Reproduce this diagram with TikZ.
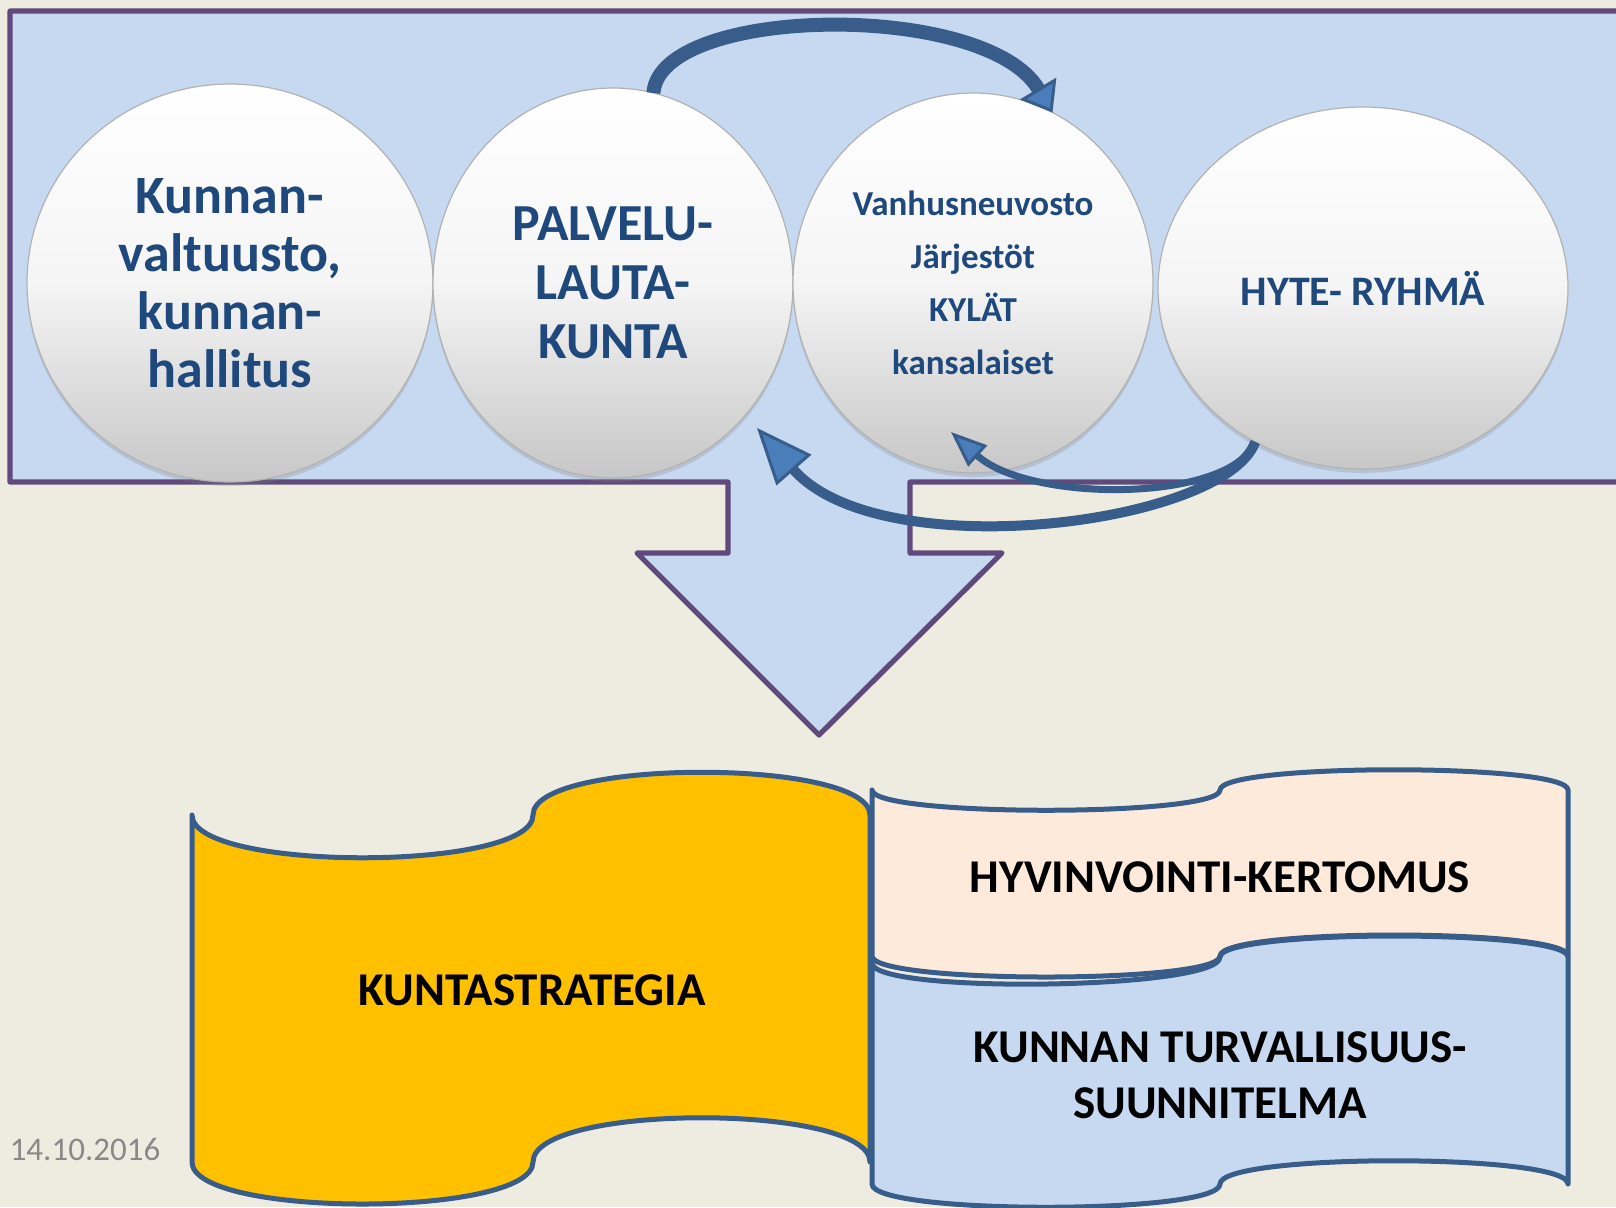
\documentclass[tikz,border=0pt]{standalone}
\usepackage{fontspec}
\setmainfont{Carlito}
\usepackage{tikz}
\usetikzlibrary{positioning,shapes.geometric,arrows.meta,shadows}
\definecolor{tausta}{RGB}{238,236,225}
\definecolor{kehys}{RGB}{96,74,123}
\definecolor{vaalea}{RGB}{198,217,241}
\definecolor{teksti}{RGB}{31,73,125}
\definecolor{nuoli}{RGB}{56,93,138}
\definecolor{nuolitaytto}{RGB}{74,126,187}
\definecolor{keltainen}{RGB}{255,192,0}
\definecolor{persikka}{RGB}{253,234,218}
\definecolor{pvm}{RGB}{137,137,137}
\tikzstyle{pallo} = [ellipse, inner sep=0pt, outer sep=0pt, draw=black!30, line width=0.6pt,
    top color=white, bottom color=white!78!black, middle color=white!96!black,
    align=center, text=teksti, drop shadow={opacity=0.25, shadow xshift=0pt, shadow yshift=-2pt}]
\tikzstyle{kaari} = [draw=nuoli, line width=5pt]
\tikzstyle{nauha} = [draw=nuoli, line width=2.5pt, line join=round]
\tikzstyle{otsikko} = [align=center, font=\bfseries\fontsize{23.5}{28}\selectfont]

\begin{document}
\begin{tikzpicture}[x=0.5pt, y=-0.5pt]
    \useasboundingbox (0,0) rectangle (1616,1207);
    \fill[tausta] (0,0) rectangle (1616,1207);

    \draw[kehys, fill=vaalea, line width=2.6pt, line join=round] (1630,11) -- (10,11) -- (10,482)
        -- (728,482) -- (728,553) -- (637,553) -- (819,735) -- (1002,553) -- (910,553) -- (910,482) -- (1630,482);

    \node[pallo, minimum width=203pt, minimum height=199pt, font=\bfseries\fontsize{27}{29}\selectfont]
        (valtuusto) at (230,283) {Kunnan-\\valtuusto,\\kunnan-\\hallitus};
    \node[pallo, minimum width=180pt, minimum height=195pt, right=0pt of valtuusto,
        font=\bfseries\fontsize{26}{29.5}\selectfont] (lautakunta) {PALVELU-\\LAUTA-\\KUNTA};
    \node[pallo, minimum width=180pt, minimum height=190pt, right=0pt of lautakunta,
        font=\bfseries\fontsize{17.5}{26.5}\selectfont] (neuvosto) {Vanhusneuvosto\\Järjestöt\\KYLÄT\\kansalaiset};
    \node[pallo, minimum width=205pt, minimum height=181pt, right=2.5pt of neuvosto, yshift=-2.5pt,
        font=\bfseries\fontsize{21}{24}\selectfont] (hyte) {HYTE- RYHMÄ};

    \coordinate (paa1) at (757,428);
    \coordinate (paa2) at (951,432);
    \draw[kaari, line width=7pt, -{Triangle[width=21pt, length=14pt, fill=nuolitaytto, line width=1.5pt 0]}]
        (lautakunta.78) .. controls (660,5) and (985,0) .. (neuvosto.65);
    \draw[kaari, -{Triangle[width=23pt, length=28pt, fill=nuolitaytto, line width=1.5pt 0]}]
        (hyte.235) .. controls (1225,525) and (880,568) .. (paa1);
    \draw[kaari, line width=3.5pt, -{Triangle[width=14pt, length=18pt, fill=nuolitaytto, line width=1.5pt 0]}]
        (hyte.235) .. controls (1230,503) and (1030,503) .. (paa2);

    \draw[nauha, fill=keltainen] (192,815) .. controls (192,872) and (533,872) .. (533,815)
        .. controls (533,758) and (870,758) .. (870,815) -- (870,1162)
        .. controls (870,1103) and (533,1103) .. (533,1162)
        .. controls (533,1218) and (192,1218) .. (192,1162) -- cycle;
    \draw[nauha, fill=vaalea] (872,963) .. controls (872,994) and (1220,990) .. (1220,957)
        .. controls (1220,929) and (1568,929) .. (1568,957) -- (1568,1184)
        .. controls (1568,1153) and (1220,1153) .. (1220,1184)
        .. controls (1220,1215) and (872,1215) .. (872,1184) -- cycle;
    \draw[nauha, fill=persikka] (872,790) .. controls (872,817) and (1220,817) .. (1220,790)
        .. controls (1220,763) and (1568,763) .. (1568,790) -- (1568,956)
        .. controls (1568,928) and (1220,928) .. (1220,956)
        .. controls (1220,984) and (872,984) .. (872,956) -- cycle;

    \node[otsikko] (strategia) at (532,990) {KUNTASTRATEGIA};
    \node[otsikko] (kertomus) at (1220,877) {HYVINVOINTI-KERTOMUS};
    \node[otsikko] (turva) at (1220,1075) {KUNNAN TURVALLISUUS-\\SUUNNITELMA};
    \node[text=pvm, font=\fontsize{16.5}{20}\selectfont] (paiva) at (85,1149) {14.10.2016};
\end{tikzpicture}
\end{document}
